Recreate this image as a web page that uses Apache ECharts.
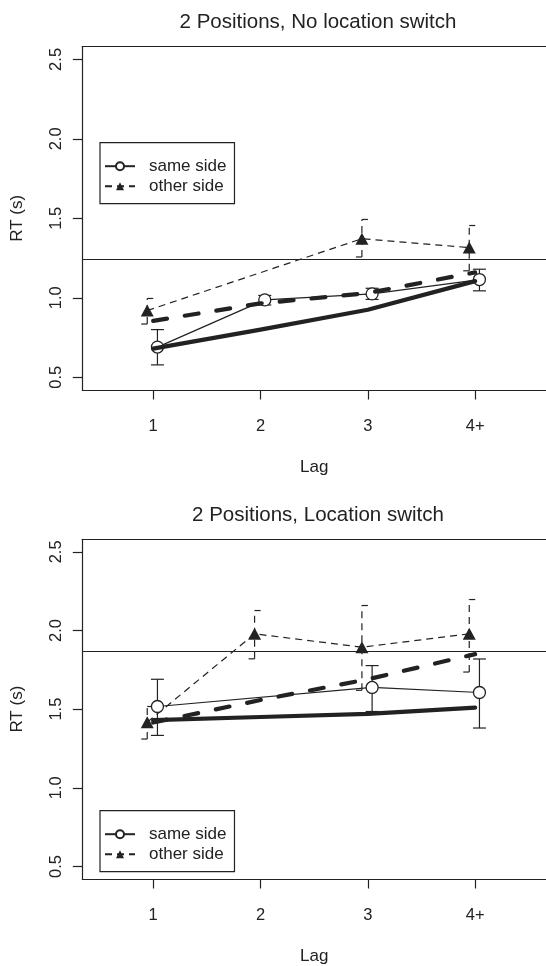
<!DOCTYPE html>
<html><head><meta charset="utf-8">
<script src="https://cdn.jsdelivr.net/npm/echarts@6/dist/echarts.min.js"></script>
<style>html,body{margin:0;padding:0;background:#fff}#c{width:546px;height:966px}</style>
</head><body><div id="c"></div>
<script>
// ---- data ----
const lagLabels = ['1', '2', '3', '4+'];
const lagPos = [1, 2, 3, 4];
const yTicks = [0.5, 1.0, 1.5, 2.0, 2.5];
const panelTitles = ['2 Positions, No location switch', '2 Positions, Location switch'];
const seriesNames = ['same side', 'other side'];

// Panel A: No location switch
const sameA = [0.69, 0.987, 1.025, 1.115];
const sameLoA = [0.578, 0.955, 0.99, 1.044];
const sameHiA = [0.80, 1.015, 1.06, 1.18];
const otherA = [0.92, null, 1.372, 1.316];
const otherLoA = [0.835, null, 1.257, 1.17];
const otherHiA = [0.996, null, 1.493, 1.455];
const modelSameA = [0.68, 0.80, 0.925, 1.105];
const modelOtherA = [0.855, 0.965, 1.03, 1.16];
const refLineA = 1.24;

// Panel B: Location switch
const sameB = [1.517, null, 1.638, 1.606];
const sameLoB = [1.333, null, 1.485, 1.38];
const sameHiB = [1.69, null, 1.777, 1.819];
const otherB = [1.417, 1.979, 1.894, 1.979];
const otherLoB = [1.31, 1.82, 1.62, 1.736];
const otherHiB = [1.517, 2.127, 2.159, 2.197];
const modelSameB = [1.43, 1.45, 1.47, 1.51];
const modelOtherB = [1.415, 1.558, 1.69, 1.85];
const refLineB = 1.87;

// ---- layout / style ----
const INK = '#222';
const FONT = 'Liberation Sans, Arial, Helvetica, sans-serif';
const SAME_OFF = 0.04, OTHER_OFF = -0.055;
const gridsPos = [{ top: 46.7, height: 343.3 }, { top: 539.3, height: 343.4 }];
const panels = [
  { same: sameA, sLo: sameLoA, sHi: sameHiA, other: otherA, oLo: otherLoA, oHi: otherHiA, mS: modelSameA, mO: modelOtherA, ref: refLineA },
  { same: sameB, sLo: sameLoB, sHi: sameHiB, other: otherB, oLo: otherLoB, oHi: otherHiB, mS: modelSameB, mO: modelOtherB, ref: refLineB }
];

function pts(vals, off) {
  return lagPos.map((x, i) => [x + off, vals[i]]).filter(p => p[1] !== null);
}
function errs(lo, hi, off) {
  return lagPos.map((x, i) => [x + off, lo[i], hi[i]]).filter(p => p[1] !== null);
}
function errRender(dashed) {
  return function (params, api) {
    const x = api.value(0);
    const a = api.coord([x, api.value(1)]);
    const b = api.coord([x, api.value(2)]);
    const st = { stroke: INK, lineWidth: 1.2, fill: null };
    if (dashed) st.lineDash = [7, 5];
    const kids = [{ type: 'line', shape: { x1: a[0], y1: a[1], x2: b[0], y2: b[1] }, style: st }];
    if (dashed) {
      kids.push({ type: 'line', shape: { x1: b[0], y1: b[1], x2: b[0] + 6, y2: b[1] }, style: { stroke: INK, lineWidth: 1.2 } });
      kids.push({ type: 'line', shape: { x1: a[0] - 6, y1: a[1], x2: a[0], y2: a[1] }, style: { stroke: INK, lineWidth: 1.2 } });
    } else {
      kids.push({ type: 'line', shape: { x1: b[0] - 6.5, y1: b[1], x2: b[0] + 6.5, y2: b[1] }, style: st });
      kids.push({ type: 'line', shape: { x1: a[0] - 6.5, y1: a[1], x2: a[0] + 6.5, y2: a[1] }, style: st });
    }
    return { type: 'group', children: kids };
  };
}

const grid = [], xAxis = [], yAxis = [], series = [], title = [], legend = [];
const boxLine = { show: true, onZero: false, lineStyle: { color: INK, width: 1.2 } };
panels.forEach((p, i) => {
  grid.push({ left: 82.3, right: -2, top: gridsPos[i].top, height: gridsPos[i].height, show: false });
  xAxis.push({ gridIndex: i, type: 'value', min: 0.34, max: 4.66, position: 'bottom',
    name: 'Lag', nameLocation: 'middle', nameGap: 69,
    nameTextStyle: { color: INK, fontSize: 17, fontFamily: FONT },
    axisLine: boxLine, splitLine: { show: false },
    axisTick: { show: true, customValues: lagPos, length: 9.5, lineStyle: { color: INK, width: 1.2 } },
    axisLabel: { customValues: lagPos, color: INK, fontSize: 16.5, fontFamily: FONT, margin: 28,
      formatter: v => lagLabels[lagPos.indexOf(v)] } });
  yAxis.push({ gridIndex: i, type: 'value', min: 0.42, max: 2.58,
    name: 'RT (s)', nameLocation: 'middle', nameGap: 56, nameRotate: 90,
    nameTextStyle: { color: INK, fontSize: 17, fontFamily: FONT },
    axisLine: boxLine, splitLine: { show: false },
    axisTick: { show: true, customValues: yTicks, length: 9.5, lineStyle: { color: INK, width: 1.2 } },
    axisLabel: { customValues: yTicks, rotate: 90, color: INK, fontSize: 16.5, fontFamily: FONT, margin: 17,
      formatter: v => v.toFixed(1) } });
  title.push({ text: panelTitles[i], left: 313, top: i === 0 ? 7 : 499.5, textAlign: 'center',
    textStyle: { color: INK, fontSize: 20.5, fontWeight: 'normal', fontFamily: FONT } });
  legend.push({ data: seriesNames, orient: 'vertical', left: 100, top: i === 0 ? 142.7 : 810.7,
    selectedMode: false, itemWidth: 30, itemHeight: 10, itemGap: 3,
    padding: [15, 8, 9, 4], borderColor: INK, borderWidth: 1.2, backgroundColor: '#fff',
    textStyle: { color: INK, fontSize: 17, fontFamily: FONT, padding: [0, 0, 0, 9] } });
});
// top border of each box
panels.forEach((p, i) => {
  xAxis.push({ gridIndex: i, type: 'value', min: 0.34, max: 4.66, position: 'top',
    axisLine: boxLine, axisTick: { show: false }, axisLabel: { show: false }, splitLine: { show: false } });
});
panels.forEach((p, i) => {
  series.push({ name: 'model same', type: 'line', xAxisIndex: i, yAxisIndex: i, data: pts(p.mS, 0),
    symbol: 'none', lineStyle: { color: INK, width: 4.2, cap: 'round', join: 'round' }, z: 5,
    markLine: { silent: true, symbol: 'none', label: { show: false },
      lineStyle: { color: INK, width: 1.2, type: 'solid' }, data: [{ yAxis: p.ref }] } });
  series.push({ name: 'model other', type: 'line', xAxisIndex: i, yAxisIndex: i, data: pts(p.mO, 0),
    symbol: 'none', lineStyle: { color: INK, width: 4.2, type: [14, 18], cap: 'round' }, z: 5 });
  series.push({ name: 'same side', type: 'line', xAxisIndex: i, yAxisIndex: i, data: pts(p.same, SAME_OFF),
    symbol: 'circle', symbolSize: 12, showAllSymbol: true,
    itemStyle: { color: '#fff', borderColor: INK, borderWidth: 1.3 },
    lineStyle: { color: INK, width: 1.2 }, z: 3 });
  series.push({ name: 'other side', type: 'line', xAxisIndex: i, yAxisIndex: i, data: pts(p.other, OTHER_OFF),
    symbol: 'triangle', symbolSize: [13, 12], showAllSymbol: true,
    itemStyle: { color: INK, borderWidth: 0 },
    lineStyle: { color: INK, width: 1.2, type: [7, 5] }, z: 3 });
  series.push({ name: 'err same', type: 'custom', xAxisIndex: i, yAxisIndex: i,
    data: errs(p.sLo, p.sHi, SAME_OFF), renderItem: errRender(false), encode: { x: 0, y: [1, 2] }, z: 2 });
  series.push({ name: 'err other', type: 'custom', xAxisIndex: i, yAxisIndex: i,
    data: errs(p.oLo, p.oHi, OTHER_OFF), renderItem: errRender(true), encode: { x: 0, y: [1, 2] }, z: 2 });
});

const chart = echarts.init(document.getElementById('c'), null, { renderer: 'canvas' });
chart.setOption({ animation: false, backgroundColor: '#fff', title, legend, grid, xAxis, yAxis, series });
</script></body></html>
